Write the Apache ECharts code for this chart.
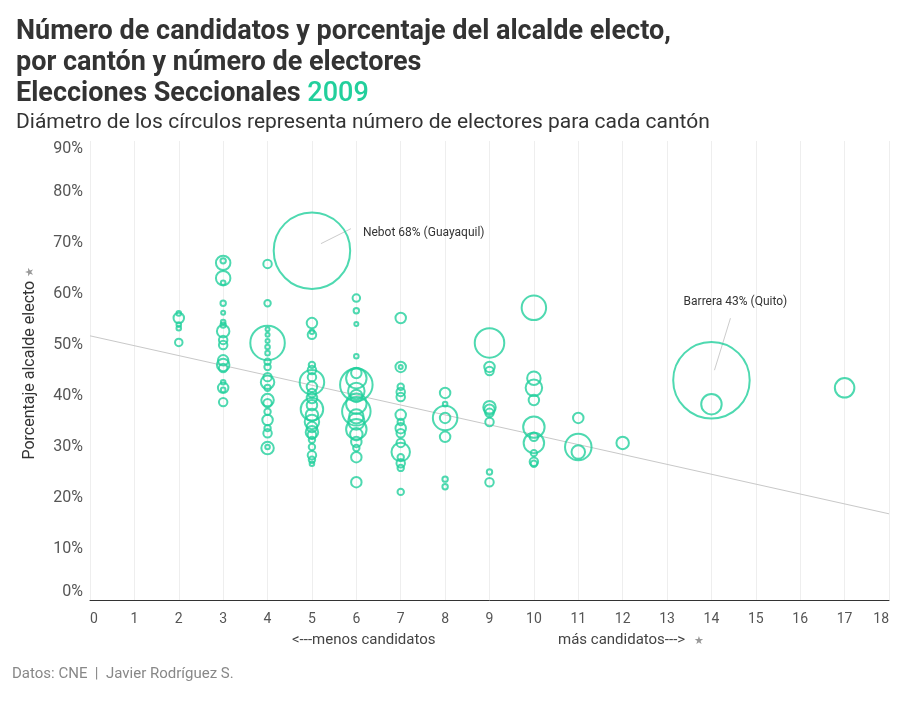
<!DOCTYPE html>
<html><head><meta charset="utf-8">
<script src="https://cdn.jsdelivr.net/npm/echarts@6/dist/echarts.min.js"></script>
<style>html,body{margin:0;padding:0;background:#fff}#c{width:900px;height:711px}</style>
</head><body><div id="c"></div>
<script>
// Número de candidatos por cantón
const candidatos = [
 2,2,2,2,2,
 3,3,3,3,3,3,3,3,3,3,3,3,3,3,3,3,3,3,
 4,4,4,4,4,4,4,4,4,4,4,4,4,4,4,4,4,4,4,4,4,
 5,5,5,5,5,5,5,5,5,5,5,5,5,5,5,5,5,5,5,5,5,5,5,
 6,6,6,6,6,6,6,6,6,6,6,6,6,6,6,6,6,6,6,
 7,7,7,7,7,7,7,7,7,7,7,7,7,7,7,7,
 8,8,8,8,8,8,8,
 9,9,9,9,9,9,9,9,9,
 10,10,10,10,10,10,10,10,10,10,
 11,11,11,
 12,
 14,14,
 17
];
// Porcentaje del alcalde electo (%)
const porcentaje = [
 56.2,55.3,54,53.3,50.5,
 66.5,66.1,63.1,62.2,58.2,56.3,54.5,53.9,52.7,51,50,47,46.1,45.5,42.7,41.6,41.2,38.8,
 65.9,58.2,50.4,53.1,52,50.8,49.6,48.4,46.7,45.7,43.7,42.7,41.6,39.2,38.6,36.9,35.3,33.7,32.7,29.8,30,
 68.5,54.3,52.6,52,46.1,45.1,43.7,42.7,41.8,40.6,39.6,38.2,37.4,36.3,34.9,33.9,32.9,32.4,31.4,30,28.4,27.5,26.7,
 59.2,56.7,54.1,47.8,44.5,43.5,42.2,41,40,38.5,37,36,35,33.5,32.5,31,29.8,28,23.1,
 55.3,45.7,45.7,41.8,40.8,39.8,36.3,34.9,33.7,32.7,30.8,29,28,26.8,25.9,21.2,
 40.6,38.4,35.7,35.7,32,23.7,22.2,
 50.4,45.7,44.9,37.8,37.3,36.7,34.9,25.1,23.1,
 57.3,43.5,41.6,39.2,33.9,32,30.8,28.8,27.1,26.7,
 35.7,30,29,
 30.8,
 43.1,38.4,
 41.6
];
// Número de electores (miles, estimado)
const electores = [
 10,39,10,10,22,
 13,69,69,10,13,7,10,13,53,27,27,39,53,27,10,39,10,27,
 27,17,352,7,7,7,10,10,17,17,27,61,17,53,27,17,39,17,27,53,10,
 1650,39,10,27,17,27,27,183,39,27,39,39,156,53,69,39,53,27,17,17,27,17,10,
 22,13,7,10,39,131,314,88,53,131,244,69,88,131,53,39,17,39,39,
 39,39,4,17,27,27,39,17,39,27,27,108,17,27,17,17,
 39,10,183,39,39,13,13,
 261,39,27,53,39,27,27,13,27,
 183,61,88,39,143,27,131,17,27,17,
 39,213,61,
 53,
 1650,131,
 120
];
// Etiquetas destacadas
const etiquetas = [
 {idx: 44, texto: 'Nebot 68% (Guayaquil)'},
 {idx: 132, texto: 'Barrera 43% (Quito)'}
];
// Línea de tendencia (extremos)
const tendenciaX = [0, 18];
const tendenciaY = [51.8, 16.9];

const xTicks = [0,18,1];
const yTicks = [0,90,10];

const green = '#22cf9c';
const data = candidatos.map((c,i)=>[c, porcentaje[i], electores[i]]);
const sizeOf = e => Math.max(4, 1.92*Math.sqrt(e) - 1.5);

const chart = echarts.init(document.getElementById('c'));
const font = 'Roboto, sans-serif';
chart.setOption({
  animation: false,
  backgroundColor: '#fff',
  title: {
    left: 11, top: 12,
    text: '{a|Número de candidatos y porcentaje del alcalde electo,}\n{a|por cantón y número de electores}\n{a|Elecciones Seccionales }{g|2009}',
    textStyle: {
      rich: {
        a: {fontFamily: font, fontWeight: 'bold', fontSize: 27, color: '#333', lineHeight: 31},
        g: {fontFamily: font, fontWeight: 500, fontSize: 27, color: green, lineHeight: 31}
      }
    },
    subtext: 'Diámetro de los círculos representa número de electores para cada cantón',
    subtextStyle: {fontFamily: font, fontSize: 21, color: '#333'},
    itemGap: 6
  },
  grid: {left: 90, right: 11, top: 141, bottom: 111},
  xAxis: {
    type: 'value', min: xTicks[0], max: xTicks[1], interval: xTicks[2],
    axisLine: {show: true, onZero: false, lineStyle: {color: '#333', width: 1}},
    axisTick: {show: false},
    splitLine: {show: true, lineStyle: {color: '#eeeeee'}},
    axisLabel: {color: '#555', fontSize: 14, fontFamily: font, margin: 12, alignMinLabel: 'left', alignMaxLabel: 'right'}
  },
  yAxis: {
    type: 'value', min: yTicks[0], max: yTicks[1], interval: yTicks[2],
    axisLine: {show: false}, axisTick: {show: false}, splitLine: {show: false},
    axisLabel: {color: '#555', fontSize: 16, fontFamily: font, margin: 7, formatter: '{value}%',
      verticalAlignMinLabel: 'bottom', verticalAlignMaxLabel: 'top'},
    name: '{n|Porcentaje alcalde electo} {p|★}',
    nameLocation: 'middle', nameGap: 52, nameRotate: 90,
    nameTextStyle: {padding: [0, 0, 0, 14], rich: {n: {fontFamily: font, fontSize: 16, color: '#333'}, p: {fontSize: 11, color: '#999'}}}
  },
  series: [
    {
      type: 'line', data: tendenciaX.map((x,i)=>[x, tendenciaY[i]]),
      symbol: 'none', lineStyle: {color: '#c8c8c8', width: 1}, silent: true, z: 1
    },
    {
      type: 'scatter', data: data,
      symbolSize: d => sizeOf(d[2]),
      itemStyle: {color: 'rgba(0,0,0,0)', borderColor: green, borderWidth: 2},
      z: 2
    }
  ]
});

// textos fijos y anotaciones ancladas a los datos
const g = [
  {type: 'text', left: 292, top: 633, style: {text: '<---menos candidatos', fontFamily: font, fontSize: 15, fill: '#444'}},
  {type: 'text', left: 558, top: 633, style: {text: 'más candidatos--->', fontFamily: font, fontSize: 15, fill: '#444'}},
  {type: 'text', left: 694, top: 635, style: {text: '★', fontSize: 11, fill: '#999'}},
  {type: 'text', left: 12, top: 667, style: {text: 'Datos: CNE  |  Javier Rodríguez S.', fontFamily: font, fontSize: 15, fill: '#888'}}
];
etiquetas.forEach((e, k) => {
  const p = chart.convertToPixel({gridIndex: 0}, [candidatos[e.idx], porcentaje[e.idx]]);
  if (k === 0) {
    g.push({type: 'line', shape: {x1: p[0]+9, y1: p[1]-7, x2: p[0]+39, y2: p[1]-22}, style: {stroke: '#ccc', lineWidth: 1}});
    g.push({type: 'text', x: p[0]+51, y: p[1]-18, style: {text: e.texto, fontFamily: font, fontSize: 12, fill: '#333', verticalAlign: 'middle', align: 'left'}});
  } else {
    g.push({type: 'line', shape: {x1: p[0]+3, y1: p[1]-10, x2: p[0]+19, y2: p[1]-62}, style: {stroke: '#ccc', lineWidth: 1}});
    g.push({type: 'text', x: p[0]+24, y: p[1]-78, style: {text: e.texto, fontFamily: font, fontSize: 12, fill: '#333', verticalAlign: 'middle', align: 'center'}});
  }
});
chart.setOption({graphic: g});
</script>
</body></html>
